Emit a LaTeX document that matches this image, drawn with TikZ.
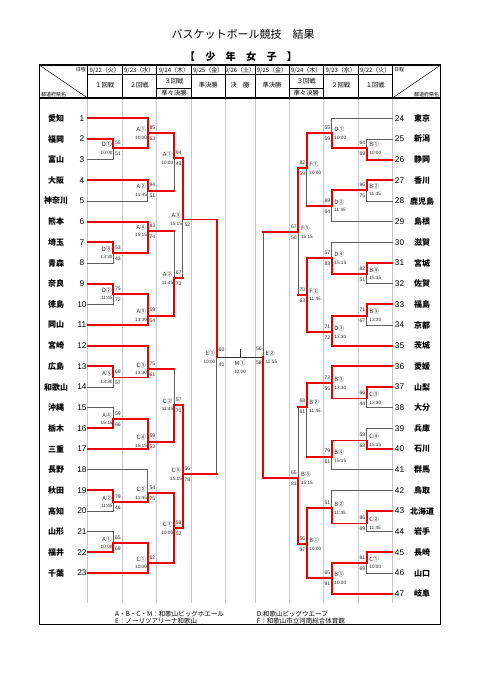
\documentclass[tikz,border=0pt]{standalone}
\usepackage{fontspec}
\setmainfont{Liberation Sans}
\newfontfamily\jp{Noto Sans CJK JP}
\definecolor{redl}{RGB}{235,0,0}
\definecolor{grl}{RGB}{95,95,95}
\newcommand\MC[6]{\coordinate (#1T) at (#4 -| #2); \coordinate (#1B) at (#5 -| #2); \coordinate (#1O) at (#3,#6);}
\newcommand\SG[3]{\draw[#1] (#2) -- (#3);}
\newcommand\LL[7]{%
 \node[mname,anchor=east] (#1-n) at (#2-1.5,#3-4.2) {#4};
 \node[mtime,anchor=east] (#1-t) at (#2-0.6,#3+4.2) {#5};
 \node[score,anchor=west] (#1-a) at (#2+1.6,#3-5.5) {#6};
 \node[score,anchor=west] (#1-b) at (#2+1.6,#3+5.5) {#7};}
\newcommand\RL[7]{%
 \node[mname,anchor=west] (#1-n) at (#2+2.5,#3-4.2) {#4};
 \node[mtime,anchor=west] (#1-t) at (#2+2.5,#3+4.2) {#5};
 \node[score,anchor=east] (#1-a) at (#2-1.3,#3-5.5) {#6};
 \node[score,anchor=east] (#1-b) at (#2-1.3,#3+5.5) {#7};}
\begin{document}
\begin{tikzpicture}[x=1pt,y=-1pt,
 gline/.style={draw=grl, line width=0.85pt, line cap=rect},
 rline/.style={draw=redl, line width=1.9pt, line cap=rect},
 colsep/.style={draw=black!22, line width=0.5pt},
 hline/.style={draw=black, line width=0.5pt},
 outerframe/.style={draw=black, line width=1.1pt},
 tname/.style={font=\jp\bfseries\fontsize{8}{8}\selectfont, inner sep=0},
 tnum/.style={font=\fontsize{8.3}{8.3}\selectfont, inner sep=0},
 mname/.style={font=\jp\fontsize{5.8}{5.8}\selectfont, inner sep=0, text=black!85},
 mtime/.style={font=\fontsize{4.7}{4.7}\selectfont, inner sep=0, text=black!85},
 score/.style={font=\fontsize{5.1}{5.1}\selectfont, inner sep=0, text=black!85},
 hd/.style={font=\jp\fontsize{6.3}{6.3}\selectfont, inner sep=0},
 hdate/.style={font=\jp\fontsize{6}{6}\selectfont, inner sep=0},
 hsm/.style={font=\jp\fontsize{5}{5}\selectfont, inner sep=0},
 foot/.style={font=\jp\fontsize{6.5}{6.5}\selectfont, inner sep=0, anchor=west},
]
\useasboundingbox (0,0) rectangle (481,680);
\fill[white] (0,0) rectangle (481,680);

% titles
\node[font=\jp\fontsize{11}{11}\selectfont, inner sep=0] (title) at (243,34) {バスケットボール競技　結果};
\node[font=\jp\bfseries\fontsize{10.2}{10.2}\selectfont, inner sep=0] (sub) at (241,57) {【　少　年　女　子　】};

% body column separators
\foreach \x in {87.5,122,156.5,191.5,225,255,289,323.5,358,392.5}
  \draw[colsep] (\x,98) -- (\x,603);
% header grid
\foreach \x in {87.5,122,156.5,191.5,225,255,289,323.5,358,392.5}
  \draw[hline] (\x,65) -- (\x,98);
\draw[hline] (87.5,74) -- (392.5,74);
\draw[hline] (156.5,88) -- (191.5,88);
\draw[hline] (289,88) -- (323.5,88);
\draw[hline] (39.3,65) -- (87.5,98);
\draw[hline] (440.7,65) -- (392.5,98);
\draw[outerframe] (39.3,98) -- (440.7,98);
\draw[outerframe] (39.3,65) rectangle (440.7,624.3);

% header texts
\node[hsm,anchor=east] (c1) at (86,70) {日程};
\node[hsm,anchor=west] (c2) at (40.8,94.3) {都道府県名};
\node[hsm,anchor=west] (c3) at (394,70) {日程};
\node[hsm,anchor=east] (c4) at (439.2,94.3) {都道府県名};
\node[hdate] (d1) at (104.75,70) {9/22（火）};
\node[hdate] (d2) at (139.25,70) {9/23（水）};
\node[hdate] (d3) at (174,70) {9/24（木）};
\node[hdate] (d4) at (208.25,70) {9/25（金）};
\node[hdate] (d5) at (240,70) {9/26（土）};
\node[hdate] (d6) at (272,70) {9/25（金）};
\node[hdate] (d7) at (306.25,70) {9/24（木）};
\node[hdate] (d8) at (340.75,70) {9/23（水）};
\node[hdate] (d9) at (375.25,70) {9/22（火）};
\node[hd] (r1) at (104.75,85.5) {１回戦};
\node[hd] (r2) at (139.25,85.5) {２回戦};
\node[hd] (r3) at (174,81.2) {３回戦};
\node[hd] (r3b) at (174,93.3) {準々決勝};
\node[hd] (r4) at (208.25,85.5) {準決勝};
\node[hd] (r5) at (240,85.5) {決　勝};
\node[hd] (r6) at (272,85.5) {準決勝};
\node[hd] (r7) at (306.25,81.2) {３回戦};
\node[hd] (r7b) at (306.25,93.3) {準々決勝};
\node[hd] (r8) at (340.75,85.5) {２回戦};
\node[hd] (r9) at (375.25,85.5) {１回戦};

% teams
\foreach \nm [count=\i] in {愛知,福岡,富山,大阪,神奈川,熊本,埼玉,青森,奈良,徳島,岡山,宮崎,広島,和歌山,沖縄,栃木,三重,長野,秋田,高知,山形,福井,千葉}{
  \pgfmathsetmacro\yy{118.3+(\i-1)*20.67}
  \node[tname] (LN\i) at (56,\yy) {\nm};
  \node[tnum] (LK\i) at (82,\yy) {\i};
  \coordinate (L\i) at (87.5,\yy);
}
\foreach \nm [count=\i from 24] in {東京,新潟,静岡,香川,鹿児島,島根,滋賀,宮城,佐賀,福島,京都,茨城,愛媛,山梨,大分,兵庫,石川,群馬,鳥取,北海道,岩手,長崎,山口,岐阜}{
  \pgfmathsetmacro\yy{118.3+(\i-24)*20.67}
  \node[tname] (RN\i) at (422,\yy) {\nm};
  \node[tnum] (RK\i) at (399.5,\yy) {\i};
  \coordinate (R\i) at (392.5,\yy);
}

% bracket x positions
\coordinate (xa) at (113.3,0); \coordinate (xb) at (147.7,0); \coordinate (xc) at (174,0);
\coordinate (xd) at (182.7,0); \coordinate (xe) at (216.7,0);
\coordinate (rxa) at (366.7,0); \coordinate (rxb) at (331.7,0); \coordinate (rxc) at (306.7,0);
\coordinate (rxd) at (298.3,0); \coordinate (rxe) at (263.3,0);

% left matches
\MC{LD1}{xa}{113.3}{L2}{L3}{148.3}
\MC{LD3}{xa}{113.3}{L7}{L8}{253}
\MC{LD2}{xa}{113.3}{L9}{L10}{294}
\MC{LA3a}{xa}{113.3}{L13}{L14}{377.5}
\MC{LA4a}{xa}{113.3}{L15}{L16}{419}
\MC{LA2a}{xa}{113.3}{L19}{L20}{502}
\MC{LA1a}{xa}{113.3}{L21}{L22}{543}
\MC{LA1b}{xb}{147.7}{L1}{LD1O}{133.3}
\MC{LA2b}{xb}{147.7}{L4}{L5}{190.6}
\MC{LA4b}{xb}{147.7}{L6}{LD3O}{231}
\MC{LA3b}{xb}{147.7}{LD2O}{L11}{315.7}
\MC{LC3b}{xb}{147.7}{L12}{LA3aO}{369}
\MC{LC4b}{xb}{147.7}{LA4aO}{L17}{441.7}
\MC{LC2b}{xb}{147.7}{L18}{LA2aO}{493.3}
\MC{LC1b}{xb}{147.7}{LA1aO}{L23}{563}
\MC{LA1c}{xc}{174}{LA1bO}{LA2bO}{158.3}
\MC{LA2c}{xc}{174}{LA4bO}{LA3bO}{278.3}
\MC{LC2c}{xc}{174}{LC3bO}{LC4bO}{405}
\MC{LC1c}{xc}{174}{LC2bO}{LC1bO}{528.3}
\MC{LA3d}{xd}{182.7}{LA1cO}{LA2cO}{219.5}
\MC{LC3d}{xd}{182.7}{LC2cO}{LC1cO}{474.3}
\MC{LE1}{xe}{216.7}{LA3dO}{LC3dO}{357}
% right matches
\MC{RB1a}{rxa}{366.7}{R25}{R26}{148.3}
\MC{RB2a}{rxa}{366.7}{R27}{R28}{190}
\MC{RB4a}{rxa}{366.7}{R31}{R32}{274}
\MC{RB3a}{rxa}{366.7}{R33}{R34}{315.7}
\MC{RC3a}{rxa}{366.7}{R37}{R38}{398.5}
\MC{RC4a}{rxa}{366.7}{R39}{R40}{440.5}
\MC{RC2a}{rxa}{366.7}{R43}{R44}{523.5}
\MC{RC1a}{rxa}{366.7}{R45}{R46}{563}
\MC{RD1b}{rxb}{331.7}{R24}{RB1aO}{133.3}
\MC{RD2b}{rxb}{331.7}{RB2aO}{R29}{206}
\MC{RD4b}{rxb}{331.7}{R30}{RB4aO}{258.3}
\MC{RD3b}{rxb}{331.7}{RB3aO}{R35}{332.3}
\MC{RB3b}{rxb}{331.7}{R36}{RC3aO}{383.3}
\MC{RB4b}{rxb}{331.7}{RC4aO}{R41}{456.7}
\MC{RB2b}{rxb}{331.7}{R42}{RC2aO}{508.3}
\MC{RB1b}{rxb}{331.7}{RC1aO}{R47}{578.3}
\MC{RF1c}{rxc}{306.7}{RD1bO}{RD2bO}{168.3}
\MC{RF2c}{rxc}{306.7}{RD4bO}{RD3bO}{295}
\MC{RB2c}{rxc}{306.7}{RB3bO}{RB4bO}{406.7}
\MC{RB1c}{rxc}{306.7}{RB2bO}{RB1bO}{544.3}
\MC{RF3d}{rxd}{298.3}{RF1cO}{RF2cO}{232.3}
\MC{RB3d}{rxd}{298.3}{RB2cO}{RB1cO}{478.3}
\MC{RE2}{rxe}{263.3}{RF3dO}{RB3dO}{357}

% ---- gray lines ----
\foreach \a/\b in {L3/LD1B,L5/LA2bB,L8/LD3B,L10/LD2B,L14/LA3aB,L15/LA4aT,L18/LC2bT,L20/LA2aB,L21/LA1aT,
 LD1O/LD1B,LD3O/LD3B,LD2O/LD2B,LA3aO/LA3aB,LA4aT/LA4aO,LA2aO/LA2aB,LA1aT/LA1aO,LA2bO/LA2bB,LC2bT/LC2bO,
 LA1cO/LA1cB,LA2cT/LA2cO,LC2cT/LC2cO,LA3dO/LA3dB,LE1O/LE1B,
 R24/RD1bT,R25/RB1aT,R28/RB2aB,R29/RD2bB,R30/RD4bT,R32/RB4aB,R34/RB3aB,R38/RC3aB,R39/RC4aT,R41/RB4bB,R42/RB2bT,R44/RC2aB,R46/RC1aB,
 RB1aT/RB1aO,RB2aO/RB2aB,RB4aO/RB4aB,RB3aO/RB3aB,RC3aO/RC3aB,RC4aT/RC4aO,RC2aO/RC2aB,RC1aO/RC1aB,
 RD1bT/RD1bO,RD2bO/RD2bB,RD4bT/RD4bO,RB4bO/RB4bB,RB2bT/RB2bO,RF1cO/RF1cB,RB2cO/RB2cB,RF3dO/RF3dB,RB3dT/RB3dO,RE2T/RE2O}
 {\SG{gline}{\a}{\b}}
% final
\coordinate (Mtop) at (240,349);
\coordinate (Mmid) at (240,357);
\draw[draw=black!80, line width=0.85pt] (LE1O) -- (RE2O);
\draw[draw=black!80, line width=0.85pt] (Mmid) -- (Mtop);

% ---- red lines ----
\foreach \a/\b in {L1/LA1bT,L2/LD1T,L4/LA2bT,L6/LA4bT,L7/LD3T,L9/LD2T,L11/LA3bB,L12/LC3bT,L13/LA3aT,L16/LA4aB,L17/LC4bB,L19/LA2aT,L22/LA1aB,L23/LC1bB,
 LD1O/LA1bB,LD3O/LA4bB,LD2O/LA3bT,LA3aO/LC3bB,LA4aO/LC4bT,LA2aO/LC2bB,LA1aO/LC1bT,LA1bO/LA1cT,LA2bO/LA1cB,LA4bO/LA2cT,LA3bO/LA2cB,
 LC3bO/LC2cT,LC4bO/LC2cB,LC2bO/LC1cT,LC1bO/LC1cB,LA1cO/LA3dT,LA2cO/LA3dB,LC2cO/LC3dT,LC1cO/LC3dB,LA3dO/LE1T,LC3dO/LE1B,
 LD1T/LD1O,LD3T/LD3O,LD2T/LD2O,LA3aT/LA3aO,LA4aO/LA4aB,LA2aT/LA2aO,LA1aO/LA1aB,LA1bT/LA1bB,LA2bT/LA2bO,LA4bT/LA4bB,LA3bT/LA3bB,
 LC3bT/LC3bB,LC4bT/LC4bB,LC2bO/LC2bB,LC1bT/LC1bB,LA1cT/LA1cO,LA2cO/LA2cB,LC2cO/LC2cB,LC1cT/LC1cB,LA3dT/LA3dO,LC3dT/LC3dB,LE1T/LE1O,
 R26/RB1aB,R27/RB2aT,R31/RB4aT,R33/RB3aT,R35/RD3bB,R36/RB3bT,R37/RC3aT,R40/RC4aB,R43/RC2aT,R45/RC1aT,R47/RB1bB,
 RB1aO/RD1bB,RB2aO/RD2bT,RB4aO/RD4bB,RB3aO/RD3bT,RC3aO/RB3bB,RC4aO/RB4bT,RC2aO/RB2bB,RC1aO/RB1bT,RD1bO/RF1cT,RD2bO/RF1cB,
 RD4bO/RF2cT,RD3bO/RF2cB,RB3bO/RB2cT,RB4bO/RB2cB,RB2bO/RB1cT,RB1bO/RB1cB,RF1cO/RF3dT,RF2cO/RF3dB,RB2cO/RB3dT,RB1cO/RB3dB,RF3dO/RE2T,RB3dO/RE2B,
 RB1aO/RB1aB,RB2aT/RB2aO,RB4aT/RB4aO,RB3aT/RB3aO,RC3aT/RC3aO,RC4aO/RC4aB,RC2aT/RC2aO,RC1aT/RC1aO,RD1bO/RD1bB,RD2bT/RD2bO,RD4bO/RD4bB,
 RD3bT/RD3bB,RB3bT/RB3bB,RB4bT/RB4bO,RB2bO/RB2bB,RB1bT/RB1bB,RF1cT/RF1cO,RF2cT/RF2cB,RB2cT/RB2cO,RB1cT/RB1cB,RF3dT/RF3dO,RB3dO/RB3dB,RE2O/RE2B}
 {\SG{rline}{\a}{\b}}

% ---- left labels ----
\LL{lD1}{113.3}{148.3}{D①}{10:00}{55}{51}
\LL{lD3}{113.3}{253}{D③}{13:30}{53}{43}
\LL{lD2}{113.3}{294}{D②}{11:45}{75}{72}
\LL{lA3a}{113.3}{377.5}{A③}{13:30}{69}{57}
\LL{lA4a}{113.3}{419}{A④}{15:15}{59}{66}
\LL{lA2a}{113.3}{502}{A②}{11:45}{79}{46}
\LL{lA1a}{113.3}{543}{A①}{10:00}{65}{69}
\LL{lA1b}{147.7}{133.3}{A①}{10:00}{85}{63}
\LL{lA2b}{147.7}{190.6}{A②}{11:45}{94}{51}
\LL{lA4b}{147.7}{231}{A④}{15:15}{83}{74}
\LL{lA3b}{147.7}{315.7}{A③}{13:30}{59}{54}
\LL{lC3b}{147.7}{369}{C③}{13:30}{75}{61}
\LL{lC4b}{147.7}{441.7}{C④}{15:15}{59}{53}
\LL{lC2b}{147.7}{493.3}{C②}{11:45}{54}{75}
\LL{lC1b}{147.7}{563}{C①}{10:00}{62}{}
\LL{lA1c}{174}{158.3}{A①}{10:00}{94}{49}
\LL{lA2c}{174}{278.3}{A②}{11:45}{67}{72}
\LL{lC2c}{174}{405}{C②}{11:45}{57}{70}
\LL{lC1c}{174}{528.3}{C①}{10:00}{58}{52}
\LL{lA3d}{182.7}{219.5}{A③}{15:15}{}{52}
\LL{lC3d}{182.7}{474.3}{C③}{15:15}{56}{78}
% ---- right labels ----
\RL{rB1a}{366.7}{148.3}{B①}{10:00}{64}{69}
\RL{rB2a}{366.7}{190}{B②}{11:45}{96}{75}
\RL{rB4a}{366.7}{274}{B④}{15:15}{82}{51}
\RL{rB3a}{366.7}{315.7}{B③}{13:30}{71}{67}
\RL{rC3a}{366.7}{398.5}{C③}{13:30}{66}{44}
\RL{rC4a}{366.7}{440.5}{C④}{15:15}{58}{63}
\RL{rC2a}{366.7}{523.5}{C②}{11:45}{86}{69}
\RL{rC1a}{366.7}{563}{C①}{10:00}{81}{69}
\RL{rD1b}{331.7}{133.3}{D①}{10:00}{55}{59}
\RL{rD2b}{331.7}{206}{D②}{11:45}{69}{64}
\RL{rD4b}{331.7}{258.3}{D④}{15:15}{57}{83}
\RL{rD3b}{331.7}{332.3}{D③}{13:30}{71}{72}
\RL{rB3b}{331.7}{383.3}{B③}{13:30}{72}{55}
\RL{rB4b}{331.7}{456.7}{B④}{15:15}{79}{61}
\RL{rB2b}{331.7}{508.3}{B②}{11:45}{51}{}
\RL{rB1b}{331.7}{578.3}{B①}{10:00}{65}{91}
\RL{rF1c}{306.7}{168.3}{F①}{10:00}{82}{59}
\RL{rF2c}{306.7}{295}{F②}{11:45}{70}{63}
\RL{rB2c}{306.7}{406.7}{B②}{11:45}{68}{61}
\RL{rB1c}{306.7}{544.3}{B①}{10:00}{56}{97}
\RL{rF3d}{298.3}{232.3}{F③}{15:15}{67}{50}
\RL{rB3d}{298.3}{478.3}{B③}{15:15}{65}{81}

% semifinals and final labels
\node[mname,anchor=east] (E1n) at (215.2,353.3) {E①};
\node[mtime,anchor=east] (E1t) at (215.5,361.7) {10:00};
\node[score,anchor=west] (E1a) at (218.5,349.3) {60};
\node[score,anchor=west] (E1b) at (218.5,365) {40};
\node[score,anchor=east] (E2a) at (262,348.3) {56};
\node[score,anchor=east] (E2b) at (262,362.3) {58};
\node[mname,anchor=west] (E2n) at (265.5,353.3) {E②};
\node[mtime,anchor=west] (E2t) at (265.5,361.7) {11:55};
\node[mname] (Mn) at (240,363.3) {M①};
\node[mtime] (Mt) at (240,371.7) {10:00};

% footer
\node[foot] (f1) at (115,614) {A・B・C・M：和歌山ビッグホエール};
\node[foot] (f2) at (115,620.7) {E：ノーリツアリーナ和歌山};
\node[foot] (f3) at (256.7,614) {D:和歌山ビッグウエーブ};
\node[foot] (f4) at (256.7,620.7) {F：和歌山市立河南総合体育館};
\end{tikzpicture}
\end{document}
